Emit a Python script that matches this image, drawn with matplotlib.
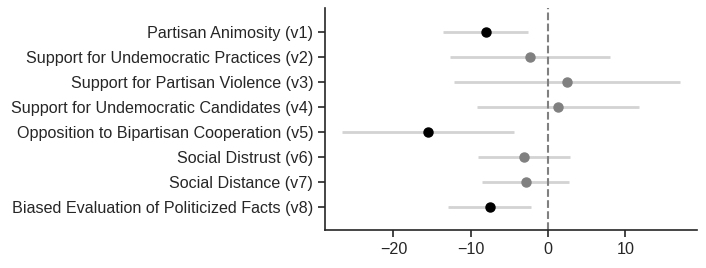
import matplotlib
matplotlib.use("Agg")
import matplotlib.pyplot as plt
import numpy as np

plt.rcParams['font.family'] = ['Liberation Sans', 'DejaVu Sans']

labels = [
    "Partisan Animosity (v1)",
    "Support for Undemocratic Practices (v2)",
    "Support for Partisan Violence (v3)",
    "Support for Undemocratic Candidates (v4)",
    "Opposition to Bipartisan Cooperation (v5)",
    "Social Distrust (v6)",
    "Social Distance (v7)",
    "Biased Evaluation of Politicized Facts (v8)",
]
estimates = [-8.06, -2.33, 2.46, 1.29, -15.57, -3.06, -2.89, -7.55]
ci_low = [-13.54, -12.68, -12.12, -9.18, -26.7, -9.05, -8.54, -12.9]
ci_high = [-2.59, 8.02, 17.0, 11.77, -4.4, 2.85, 2.68, -2.2]
significant = [True, False, False, False, True, False, False, True]

fig = plt.figure(figsize=(7.06, 2.68), dpi=100)
ax = fig.add_axes([0.4603, 0.1418, 0.987 - 0.4603, 0.970 - 0.1418])

y = np.arange(len(labels))
for i in range(len(labels)):
    ax.plot([ci_low[i], ci_high[i]], [y[i], y[i]], color='#d3d3d3', lw=2, zorder=1,
            solid_capstyle='butt')
    ax.plot(estimates[i], y[i], 'o', color='black' if significant[i] else '#808080',
            markersize=6.5, zorder=3)

ax.axvline(0, color='#808080', ls='--', lw=1.5, zorder=2)

fs = 11.6
ax.set_yticks(y)
ax.set_yticklabels(labels, fontsize=fs, color='#262626')
ax.set_ylim(7.94, -0.97)
ax.set_xlim(-28.85, 19.24)
ax.set_xticks([-20, -10, 0, 10])
ax.tick_params(axis='x', labelsize=fs, labelcolor='#262626', length=5, width=1.2, color='#262626')
ax.tick_params(axis='y', length=5, width=1.2, color='#262626')
for s in ['top', 'right']:
    ax.spines[s].set_visible(False)
for s in ['left', 'bottom']:
    ax.spines[s].set_linewidth(1.2)
    ax.spines[s].set_color('#262626')

fig.savefig("out.png", dpi=100)
